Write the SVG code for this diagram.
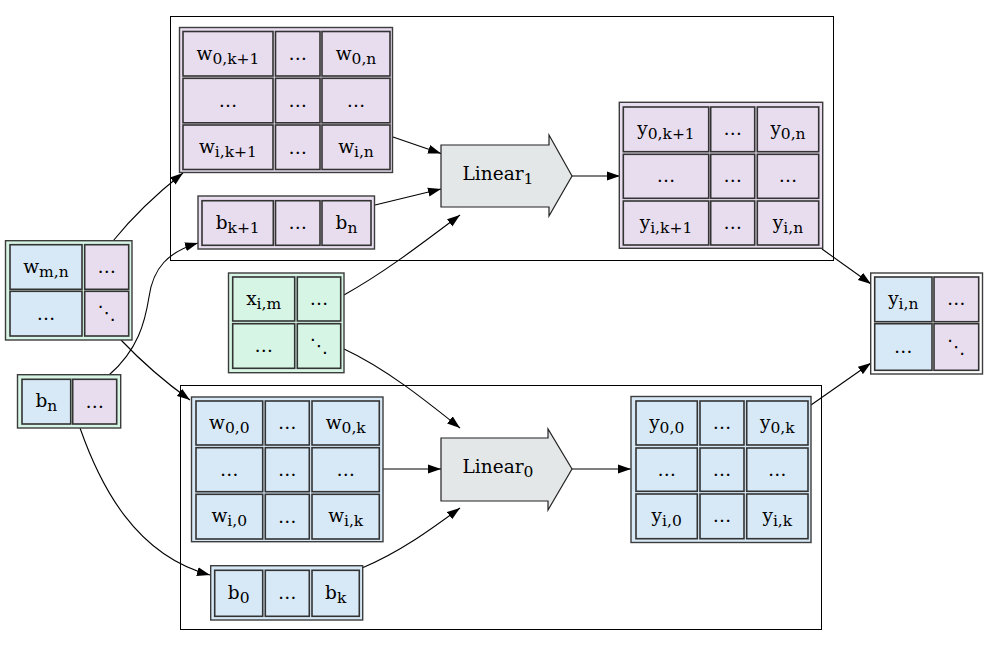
<svg xmlns="http://www.w3.org/2000/svg" width="988" height="645" viewBox="0 0 988 645">
<style>
.bg{fill:#ffffff}
.cl{fill:none;stroke:#000;stroke-width:1}
.tb{stroke:#3c3c3c;stroke-width:1.4}
.c{stroke:#333;stroke-width:1.6}
.p{fill:#e8ddef}
.b{fill:#d7e9f7}
.g{fill:#d6f5e4}
.w{fill:#ffffff}
.op{fill:#e4e7e8;stroke:#222;stroke-width:1.2}
text{font-family:"DejaVu Serif","DejaVu Sans",serif;font-size:18.5px;text-anchor:middle;fill:#000}
.s{font-size:15.5px}
.e{fill:none;stroke:#000;stroke-width:1.1}
</style>
<defs>
<marker id="ah" markerUnits="userSpaceOnUse" markerWidth="13" markerHeight="10" viewBox="0 0 13 10" refX="13" refY="5" orient="auto">
<path d="M0,0.5 L13,5 L0,9.5 z" fill="#000"/>
</marker>
</defs>
<rect class="bg" x="0" y="0" width="988" height="645"/>
<g id="cluster1"><rect class="cl" x="170.5" y="16.5" width="663" height="244"/></g>
<g id="cluster0"><rect class="cl" x="180.5" y="385.5" width="641" height="244"/></g>

<g id="connectors">
<path class="e" d="M113,241 C130,220 155,195 183,173" marker-end="url(#ah)"/>
<path class="e" d="M109,375 C138,350 145,322 149,297 C153,268 168,252 198,243" marker-end="url(#ah)"/>
<path class="e" d="M121,340 C140,360 165,382 190,400" marker-end="url(#ah)"/>
<path class="e" d="M80,428 C100,485 135,555 210,575" marker-end="url(#ah)"/>
<path class="e" d="M393,137 L441,153.5" marker-end="url(#ah)"/>
<path class="e" d="M375,205 L441,189" marker-end="url(#ah)"/>
<path class="e" d="M344,295 C385,272 420,245 460,215" marker-end="url(#ah)"/>
<path class="e" d="M344,349 C385,368 425,400 460,428" marker-end="url(#ah)"/>
<path class="e" d="M383,469 L441,469" marker-end="url(#ah)"/>
<path class="e" d="M362,568 C400,552 430,530 460,508" marker-end="url(#ah)"/>
<path class="e" d="M572,176 L620,176" marker-end="url(#ah)"/>
<path class="e" d="M572,469 L631,469" marker-end="url(#ah)"/>
<path class="e" d="M822,249 L871,284" marker-end="url(#ah)"/>
<path class="e" d="M811,405 L871,363" marker-end="url(#ah)"/>
</g>

<g id="W1">
<rect class="tb p" x="179.5" y="27.5" width="213" height="145"/>
<rect class="c p" x="183" y="31.5" width="90" height="44.5"/>
<rect class="c p" x="275.5" y="31.5" width="44.5" height="44.5"/>
<rect class="c p" x="322" y="31.5" width="68" height="44.5"/>
<rect class="c p" x="183" y="78.3" width="90" height="44.5"/>
<rect class="c p" x="275.5" y="78.3" width="44.5" height="44.5"/>
<rect class="c p" x="322" y="78.3" width="68" height="44.5"/>
<rect class="c p" x="183" y="125" width="90" height="44.5"/>
<rect class="c p" x="275.5" y="125" width="44.5" height="44.5"/>
<rect class="c p" x="322" y="125" width="68" height="44.5"/>
<text x="228" y="59.5">w<tspan class="s" dy="4">0,k+1</tspan></text>
<text x="297.7" y="60">…</text>
<text x="356" y="59.5">w<tspan class="s" dy="4">0,n</tspan></text>
<text x="228" y="106.5">…</text>
<text x="297.7" y="106.5">…</text>
<text x="356" y="106.5">…</text>
<text x="228" y="153">w<tspan class="s" dy="4">i,k+1</tspan></text>
<text x="297.7" y="153.5">…</text>
<text x="356" y="153">w<tspan class="s" dy="4">i,n</tspan></text>
</g>

<g id="Bk1">
<rect class="tb p" x="198" y="196" width="176.5" height="53"/>
<rect class="c p" x="202" y="200.7" width="71.3" height="44.6"/>
<rect class="c p" x="275.5" y="200.7" width="44.5" height="44.6"/>
<rect class="c p" x="322" y="200.7" width="49" height="44.6"/>
<text x="237.7" y="228.5">b<tspan class="s" dy="4">k+1</tspan></text>
<text x="297.7" y="229">…</text>
<text x="346.5" y="228.5">b<tspan class="s" dy="4">n</tspan></text>
</g>

<g id="Y1">
<rect class="tb p" x="619.3" y="102.3" width="203.4" height="146"/>
<rect class="c p" x="623.3" y="107" width="85.4" height="44.7"/>
<rect class="c p" x="710.7" y="107" width="44" height="44.7"/>
<rect class="c p" x="757.3" y="107" width="61.4" height="44.7"/>
<rect class="c p" x="623.3" y="154.3" width="85.4" height="44"/>
<rect class="c p" x="710.7" y="154.3" width="44" height="44"/>
<rect class="c p" x="757.3" y="154.3" width="61.4" height="44"/>
<rect class="c p" x="623.3" y="201" width="85.4" height="44"/>
<rect class="c p" x="710.7" y="201" width="44" height="44"/>
<rect class="c p" x="757.3" y="201" width="61.4" height="44"/>
<text x="666" y="134.8">y<tspan class="s" dy="4">0,k+1</tspan></text>
<text x="732.7" y="135.3">…</text>
<text x="788" y="134.8">y<tspan class="s" dy="4">0,n</tspan></text>
<text x="666" y="182.3">…</text>
<text x="732.7" y="182.3">…</text>
<text x="788" y="182.3">…</text>
<text x="666" y="228.5">y<tspan class="s" dy="4">i,k+1</tspan></text>
<text x="732.7" y="229">…</text>
<text x="788" y="228.5">y<tspan class="s" dy="4">i,n</tspan></text>
</g>

<g id="Wmn">
<rect class="tb g" x="5.5" y="240.7" width="126.5" height="99.3"/>
<rect class="c b" x="10" y="244.7" width="72" height="44.6"/>
<rect class="c p" x="84.7" y="244.7" width="44" height="44.6"/>
<rect class="c b" x="10" y="291.3" width="72" height="44.7"/>
<rect class="c p" x="84.7" y="291.3" width="44" height="44.7"/>
<text x="46" y="272.5">w<tspan class="s" dy="4">m,n</tspan></text>
<text x="106.7" y="273">…</text>
<text x="46" y="319.7">…</text>
<text x="106.7" y="319">⋱</text>
</g>

<g id="Bn">
<rect class="tb g" x="17.5" y="374.7" width="103.2" height="53.3"/>
<rect class="c b" x="22" y="379.3" width="48.7" height="44.7"/>
<rect class="c p" x="72.7" y="379.3" width="44" height="44.7"/>
<text x="46.3" y="407.2">b<tspan class="s" dy="4">n</tspan></text>
<text x="94.7" y="407.7">…</text>
</g>

<g id="X">
<rect class="tb g" x="228.5" y="273" width="115.5" height="99.7"/>
<rect class="c g" x="232.7" y="277" width="62" height="44"/>
<rect class="c g" x="297.3" y="277" width="43.4" height="44"/>
<rect class="c g" x="232.7" y="323.7" width="62" height="44.6"/>
<rect class="c g" x="297.3" y="323.7" width="43.4" height="44.6"/>
<text x="263.7" y="304.5">x<tspan class="s" dy="4">i,m</tspan></text>
<text x="319" y="305">…</text>
<text x="263.7" y="352">…</text>
<text x="319" y="351.5">⋱</text>
</g>

<g id="Out">
<rect class="tb w" x="870.7" y="273" width="111.8" height="101"/>
<rect class="c b" x="874.7" y="277" width="57.3" height="44.7"/>
<rect class="c p" x="934" y="277" width="44.7" height="44.7"/>
<rect class="c b" x="874.7" y="323.7" width="57.3" height="46.6"/>
<rect class="c p" x="934" y="323.7" width="44.7" height="46.6"/>
<text x="903.3" y="304.8">y<tspan class="s" dy="4">i,n</tspan></text>
<text x="956.3" y="305.3">…</text>
<text x="903.3" y="353">…</text>
<text x="956.3" y="352.5">⋱</text>
</g>

<g id="W0">
<rect class="tb b" x="191.5" y="397" width="191.5" height="144.7"/>
<rect class="c b" x="196" y="401" width="66.7" height="44"/>
<rect class="c b" x="265.3" y="401" width="44" height="44"/>
<rect class="c b" x="312" y="401" width="67.3" height="44"/>
<rect class="c b" x="196" y="447.7" width="66.7" height="44"/>
<rect class="c b" x="265.3" y="447.7" width="44" height="44"/>
<rect class="c b" x="312" y="447.7" width="67.3" height="44"/>
<rect class="c b" x="196" y="494.3" width="66.7" height="44.7"/>
<rect class="c b" x="265.3" y="494.3" width="44" height="44.7"/>
<rect class="c b" x="312" y="494.3" width="67.3" height="44.7"/>
<text x="229.3" y="428.5">w<tspan class="s" dy="4">0,0</tspan></text>
<text x="287.3" y="429">…</text>
<text x="345.7" y="428.5">w<tspan class="s" dy="4">0,k</tspan></text>
<text x="229.3" y="475.7">…</text>
<text x="287.3" y="475.7">…</text>
<text x="345.7" y="475.7">…</text>
<text x="229.3" y="522.2">w<tspan class="s" dy="4">i,0</tspan></text>
<text x="287.3" y="522.7">…</text>
<text x="345.7" y="522.2">w<tspan class="s" dy="4">i,k</tspan></text>
</g>

<g id="B0">
<rect class="tb b" x="210.7" y="565.7" width="152" height="54.3"/>
<rect class="c b" x="214.7" y="570.3" width="48" height="46"/>
<rect class="c b" x="265.3" y="570.3" width="44" height="46"/>
<rect class="c b" x="312" y="570.3" width="47.3" height="46"/>
<text x="238.7" y="598.8">b<tspan class="s" dy="4">0</tspan></text>
<text x="287.3" y="599.3">…</text>
<text x="335.7" y="598.8">b<tspan class="s" dy="4">k</tspan></text>
</g>

<g id="Y0">
<rect class="tb b" x="631" y="396.5" width="180" height="146"/>
<rect class="c b" x="636" y="401" width="61.3" height="44"/>
<rect class="c b" x="700" y="401" width="44" height="44"/>
<rect class="c b" x="746.7" y="401" width="61.3" height="44"/>
<rect class="c b" x="636" y="448" width="61.3" height="43.3"/>
<rect class="c b" x="700" y="448" width="44" height="43.3"/>
<rect class="c b" x="746.7" y="448" width="61.3" height="43.3"/>
<rect class="c b" x="636" y="494" width="61.3" height="44.7"/>
<rect class="c b" x="700" y="494" width="44" height="44.7"/>
<rect class="c b" x="746.7" y="494" width="61.3" height="44.7"/>
<text x="666.7" y="428.5">y<tspan class="s" dy="4">0,0</tspan></text>
<text x="722" y="429">…</text>
<text x="777.3" y="428.5">y<tspan class="s" dy="4">0,k</tspan></text>
<text x="666.7" y="475.7">…</text>
<text x="722" y="475.7">…</text>
<text x="777.3" y="475.7">…</text>
<text x="666.7" y="521.8">y<tspan class="s" dy="4">i,0</tspan></text>
<text x="722" y="522.3">…</text>
<text x="777.3" y="521.8">y<tspan class="s" dy="4">i,k</tspan></text>
</g>

<g id="Linear1">
<polygon class="op" points="441,145 549,145 549,135 572,176 549,216 549,207 441,207"/>
<text x="498" y="180">Linear<tspan class="s" dy="4">1</tspan></text>
</g>

<g id="Linear0">
<polygon class="op" points="441,438 548,438 548,429 572,469 548,510 548,501 441,501"/>
<text x="498" y="473.3">Linear<tspan class="s" dy="4">0</tspan></text>
</g>
</svg>
